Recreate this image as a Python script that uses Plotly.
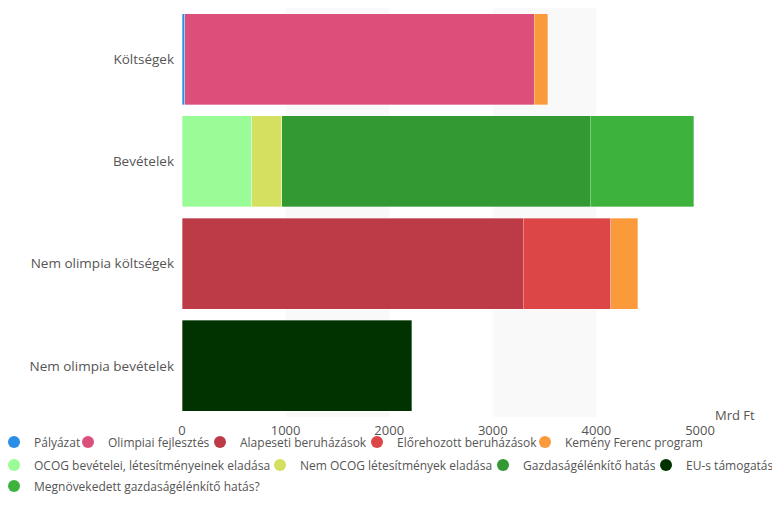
import plotly.graph_objects as go

categories = ["Költségek", "Bevételek", "Nem olimpia költségek", "Nem olimpia bevételek"]

series_names = [
    "Pályázat",
    "Olimpiai fejlesztés",
    "Alapeseti beruházások",
    "Előrehozott beruházások",
    "Kemény Ferenc program",
    "OCOG bevételei, létesítményeinek eladása",
    "Nem OCOG létesítmények eladása",
    "Gazdaságélénkítő hatás",
    "EU-s támogatás",
    "Megnövekedett gazdaságélénkítő hatás?",
]

palyazat = [25, None, None, None]
olimpiai_fejlesztes = [3375, None, None, None]
alapeseti = [None, None, 3295, None]
elorehozott = [None, None, 843, None]
kemeny_ferenc = [130, None, 260, None]
ocog = [None, 675, None, None]
nem_ocog = [None, 290, None, None]
gazdasag = [None, 2975, None, None]
eu_tamogatas = [None, None, None, 2220]
megnovekedett = [None, 1000, None, None]

series_values = [palyazat, olimpiai_fejlesztes, alapeseti, elorehozott, kemeny_ferenc,
                 ocog, nem_ocog, gazdasag, eu_tamogatas, megnovekedett]

colors = ["#2a8ee6", "#dc4f7b", "#bd3b47", "#dc4646", "#fa9a3a",
          "#9afc96", "#d4e060", "#339933", "#003300", "#3db33d"]

x_ticks = [0, 1000, 2000, 3000, 4000, 5000]
axis_unit = "Mrd Ft"

# ---- layout geometry (figure px; page body adds an 8px offset) ----
W, H = 772, 505
ML, MR, MT, MB = 174, 80, 0, 96
PW, PH = W - ML - MR, H - MT - MB

# legend marker centres (screen px) and row centres (screen px)
legend_cx = [14, 88, 220, 377, 545, 14, 280, 503, 666, 14]
legend_row = [0, 0, 0, 0, 0, 1, 1, 1, 1, 2]
row_cy = [442, 465, 486]
OFF = 8

FONT = "Open Sans"
TEXT = "#555555"

fig = go.Figure()

legend_layout = {}
for i, (name, vals, col) in enumerate(zip(series_names, series_values, colors)):
    lid = "legend" if i == 0 else f"legend{i + 1}"
    fig.add_trace(go.Bar(
        y=categories, x=vals, name=name, orientation="h",
        marker=dict(color=col, line=dict(color="rgba(255,255,255,0.55)", width=0.6)),
        legendgroup=name, showlegend=False,
    ))
    fig.add_trace(go.Scatter(
        x=[None], y=[None], mode="markers", name=name,
        marker=dict(symbol="circle", size=12, color=col),
        legendgroup=name, legend=lid, showlegend=True,
    ))
    left_fig = legend_cx[i] - OFF - 20
    cy_fig = row_cy[legend_row[i]] - OFF
    legend_layout[lid] = dict(
        orientation="h", xanchor="left", yanchor="middle",
        x=(left_fig - ML) / PW, y=(MT + PH - cy_fig) / PH,
        font=dict(family=FONT, size=12, color=TEXT),
        bgcolor="rgba(0,0,0,0)", itemwidth=30,
    )

# alternating split-area bands
shapes = []
for i in range(1, len(x_ticks) - 1, 2):
    shapes.append(dict(type="rect", xref="x", yref="paper",
                       x0=x_ticks[i], x1=x_ticks[i + 1], y0=0, y1=1,
                       fillcolor="#f9f9f9", line=dict(width=0), layer="below"))

fig.update_layout(
    width=W, height=H,
    margin=dict(l=ML, r=MR, t=MT, b=MB, autoexpand=False),
    paper_bgcolor="white", plot_bgcolor="white",
    barmode="stack", bargap=0.11,
    font=dict(family=FONT, size=13, color=TEXT),
    shapes=shapes,
    xaxis=dict(range=[x_ticks[0], x_ticks[-1]], tickvals=x_ticks,
               ticktext=[str(t) for t in x_ticks], showgrid=False, zeroline=False,
               showline=False, ticks="", ticklabelstandoff=4,
               tickfont=dict(family=FONT, size=13, color=TEXT), fixedrange=True),
    yaxis=dict(categoryorder="array", categoryarray=categories, autorange="reversed",
               showgrid=False, zeroline=False, showline=False, ticks="",
               ticklabelstandoff=7, tickfont=dict(family=FONT, size=13.5, color=TEXT),
               fixedrange=True),
    annotations=[dict(text=axis_unit, xref="paper", yref="paper", x=1.11, y=0,
                      xanchor="right", yanchor="middle", yshift=2, showarrow=False,
                      font=dict(family=FONT, size=13, color=TEXT))],
    **legend_layout,
)

fig.write_html("out.html")
